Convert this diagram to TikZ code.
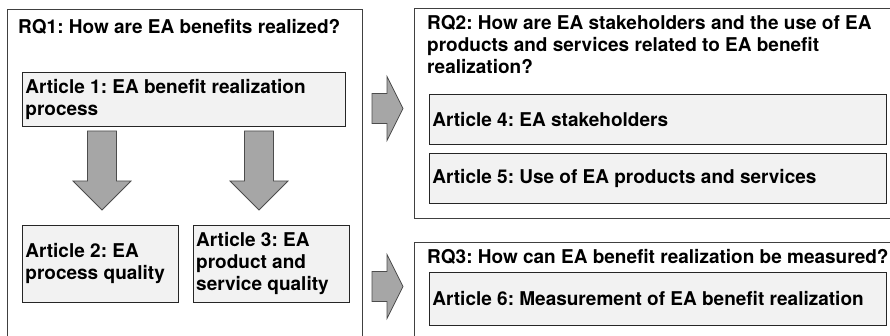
\documentclass[tikz,border=0pt]{standalone}
\usepackage{fontspec}
\setmainfont{texgyreheros}[Extension=.otf,UprightFont=*-regular,BoldFont=*-bold]
\usetikzlibrary{positioning,calc}
\frenchspacing
\hyphenpenalty=10000
\exhyphenpenalty=10000

\begin{document}
\begin{tikzpicture}
  [x=1pt,y=-1pt,
  every node/.style={font=\bfseries\fontsize{19}{22}\selectfont},
  frame/.style={draw=black!75,line width=0.8pt,rectangle,anchor=north west,inner sep=0pt},
  title/.style={anchor=north west,inner sep=0pt,align=flush left},
  article/.style={draw=black!85,fill=gray!10,line width=0.8pt,anchor=north west,align=flush left,inner xsep=3pt,inner ysep=0pt},
  blockarrow/.style={draw=black!70,fill=black!35,line width=0.8pt}]

  \useasboundingbox (0,0) rectangle (890,336);
  \clip (0,0) rectangle (890,336);

  % research question frames
  \node[frame,minimum width=355pt,minimum height=345pt] (rq1) at (7,9) {};
  \node[frame,minimum width=490pt,minimum height=210pt] (rq2) at (414,8) {};
  \node[frame,minimum width=490pt,minimum height=110pt] (rq3) at (414,242) {};

  \node[title] (t1) at (18,19.5) {RQ1: How are EA benefits realized?};
  \node[title,text width=460pt] (t2) at (427,15.5) {RQ2: How are EA stakeholders and the use of EA products and services related to EA benefit realization?};
  \node[title] (t3) at (427,249) {RQ3: How can EA benefit realization be measured?};

  % articles
  \node[article,text width=317pt,minimum height=54pt] (a1) at (22,72) {Article 1: EA benefit realization process};
  \node[article,text width=150pt,minimum height=77pt] (a2) at (22,225) {Article 2: EA process quality};
  \node[article,text width=150pt,minimum height=77pt,right=14pt of a2.north east,anchor=north west] (a3) {Article 3: EA product and service quality};
  \node[article,text width=451pt,minimum height=50pt] (a4) at (429,94) {Article 4: EA stakeholders};
  \node[article,text width=451pt,minimum height=50pt,below=8pt of a4] (a5) {Article 5: Use of EA products and services};
  \node[article,text width=451pt,minimum height=53pt] (a6) at (429,272) {Article 6: Measurement of EA benefit realization};

  % block arrows
  \coordinate (d1) at (102,131);
  \coordinate (d2) at (259,131);
  \coordinate (r1) at (372,93.5);
  \coordinate (r2) at (372,271.5);
  \foreach \c in {d1,d2}
    \draw[blockarrow] (\c) ++(-14.5,0) -- ++(29,0) -- ++(0,50) -- ++(14.5,0) -- ++(-29,29) -- ++(-29,-29) -- ++(14.5,0) -- cycle;
  \foreach \c in {r1,r2}
    \draw[blockarrow] (\c) -- ++(15,0) -- ++(0,-17) -- ++(16,32) -- ++(-16,32) -- ++(0,-17) -- ++(-15,0) -- cycle;
\end{tikzpicture}
\end{document}
